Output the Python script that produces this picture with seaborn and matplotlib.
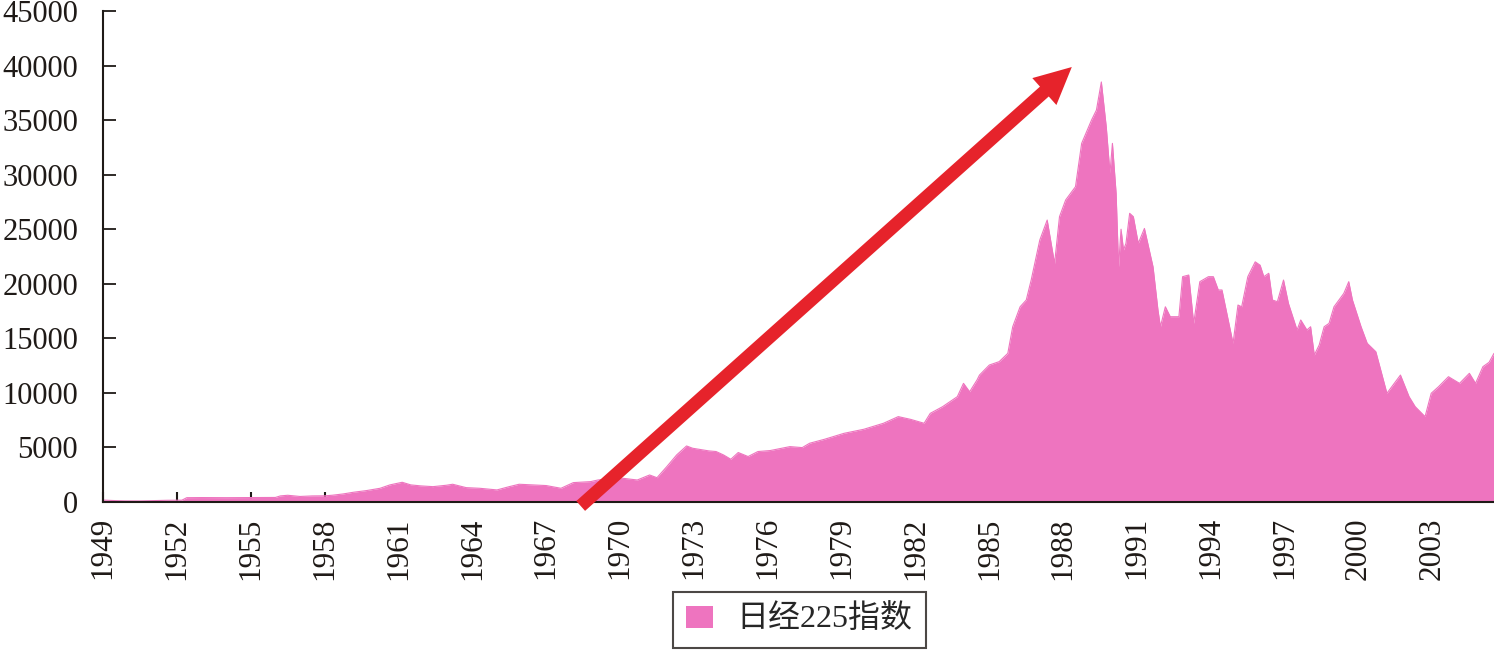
import matplotlib
matplotlib.use("Agg")
import matplotlib.pyplot as plt
import seaborn as sns
import pandas as pd

# ---- data ----
years = [1949.0, 1949.5, 1949.9, 1950.5, 1951.0, 1951.6, 1952.2, 1952.4, 1953.0, 1954.0,
         1955.0, 1956.0, 1956.2, 1956.5, 1957.0, 1957.5, 1958.0, 1958.3, 1958.75, 1959.15,
         1959.7, 1960.25, 1960.65, 1961.15, 1961.5, 1961.9, 1962.4, 1962.95, 1963.2, 1963.75,
         1964.3, 1965.0, 1965.5, 1965.9, 1966.45, 1967.0, 1967.6, 1968.1, 1968.8, 1969.1,
         1969.6, 1970.1, 1970.7, 1971.2, 1971.5, 1971.9, 1972.3, 1972.7, 1972.95, 1973.2,
         1973.6, 1973.9, 1974.2, 1974.5, 1974.8, 1975.2, 1975.6, 1976.1, 1976.9, 1977.4,
         1977.7, 1978.3, 1979.1, 1979.9, 1980.7, 1981.3, 1981.8, 1982.35, 1982.6, 1983.1,
         1983.7, 1983.95, 1984.2, 1984.5, 1984.6, 1985.0, 1985.4, 1985.75, 1985.95, 1986.25,
         1986.5, 1986.7, 1987.05, 1987.35, 1987.65, 1987.85, 1988.1, 1988.5, 1988.75, 1989.15,
         1989.35, 1989.55, 1989.75, 1989.9, 1990.0, 1990.15, 1990.25, 1990.35, 1990.45, 1990.55,
         1990.7, 1990.85, 1991.05, 1991.3, 1991.65, 1991.85, 1991.95, 1992.15, 1992.35, 1992.7,
         1992.85, 1993.1, 1993.3, 1993.55, 1993.9, 1994.1, 1994.3, 1994.45, 1994.9, 1995.1,
         1995.25, 1995.5, 1995.8, 1996.0, 1996.15, 1996.35, 1996.5, 1996.7, 1996.95, 1997.15,
         1997.5, 1997.65, 1997.9, 1998.05, 1998.2, 1998.4, 1998.6, 1998.8, 1999.0, 1999.4,
         1999.6, 1999.75, 2000.1, 2000.35, 2000.7, 2000.9, 2001.15, 2001.35, 2001.7, 2002.05,
         2002.3, 2002.7, 2002.95, 2003.25, 2003.65, 2004.1, 2004.5, 2004.75, 2005.05, 2005.3,
         2005.5]
nikkei = [170, 120, 95, 90, 120, 150, 160, 390, 400, 390,
          400, 410, 550, 610, 500, 550, 560, 610, 730, 880,
          1040, 1250, 1560, 1800, 1560, 1470, 1400, 1530, 1620, 1310,
          1250, 1100, 1400, 1620, 1560, 1500, 1250, 1770, 1860, 2010,
          2150, 2170, 2010, 2470, 2220, 3240, 4310, 5130, 4920, 4830,
          4680, 4620, 4310, 3910, 4530, 4160, 4620, 4710, 5070, 4980,
          5380, 5740, 6290, 6660, 7210, 7820, 7570, 7210, 8120, 8730,
          9650, 10870, 10100, 11180, 11630, 12550, 12860, 13620, 16060, 17890,
          18510, 20340, 24010, 25840, 21860, 26150, 27680, 28900, 32870, 35000,
          35920, 38500, 34380, 30140, 32870, 28290, 21550, 25000, 23100, 23700,
          26460, 26150, 23700, 25070, 21550, 17590, 16060, 17890, 16980, 16980,
          20650, 20800, 16370, 20190, 20650, 20650, 19430, 19430, 14540, 18050,
          17890, 20650, 22010, 21700, 20650, 20960, 18510, 18360, 20340, 18200,
          15760, 16680, 15760, 16060, 13470, 14390, 16060, 16370, 17890, 19120,
          20190, 18510, 16060, 14540, 13770, 12090, 9960, 10570, 11630, 9650,
          8730, 7820, 9960, 10570, 11480, 10870, 11790, 10870, 12400, 12800,
          13620]
x_ticks = list(range(1949, 2004, 3))
y_ticks = list(range(0, 45001, 5000))
series_name = "日经225指数"
arrow_from = (1968.4, -370)
arrow_to = (1988.35, 39870)

df = pd.DataFrame({"year": years, "value": nikkei})

sns.set_theme(style="ticks")
plt.rcParams["font.family"] = ["Liberation Serif", "Noto Sans CJK SC", "DejaVu Sans"]

pink = "#EE74BF"
dark = "#1f1a17"

fig = plt.figure(figsize=(14.94, 6.51), dpi=100)
ax = fig.add_axes([0.069, 0.229, 0.931, 0.754])

ax.fill_between(df["year"], 0, df["value"], color=pink, linewidth=0, label=series_name)
sns.lineplot(data=df, x="year", y="value", ax=ax, color=pink, linewidth=0.8, legend=False)

ax.set_xlim(1949, 2005.5)
ax.set_ylim(0, 45000)
ax.set_xticks(x_ticks)
ax.set_xticklabels([str(t) for t in x_ticks], rotation=90)
ax.set_yticks(y_ticks)
ax.set_yticklabels([str(t) for t in y_ticks])
ax.set_xlabel("")
ax.set_ylabel("")

for s in ["top", "right"]:
    ax.spines[s].set_visible(False)
for s in ["left", "bottom"]:
    ax.spines[s].set_color(dark)
    ax.spines[s].set_linewidth(1.5)
    ax.spines[s].set_zorder(5)

ax.tick_params(axis="y", direction="in", length=9, width=1.3, pad=18,
               labelsize=22, colors=dark)
ax.tick_params(axis="x", direction="in", length=7, width=1.5, pad=11,
               labelsize=22.5, colors=dark)

ax.annotate("", xy=arrow_to, xytext=arrow_from,
            arrowprops=dict(arrowstyle="simple,head_length=2.65,head_width=2.6,tail_width=0.95",
                            mutation_scale=10, color="#E6232B", shrinkA=0, shrinkB=0,
                            linewidth=0),
            annotation_clip=False, zorder=10)

handles, labels = ax.get_legend_handles_labels()
leg = fig.legend(handles, labels, loc="lower center", bbox_to_anchor=(0.535, 0.0),
                 frameon=True, fancybox=False, handlelength=0.85,
                 handleheight=0.7, handletextpad=0.75, borderpad=0.4, borderaxespad=0.1,
                 prop={"family": ["Liberation Serif", "Noto Sans CJK SC"], "size": 23})
leg.get_frame().set_edgecolor(dark)
leg.get_frame().set_linewidth(1.5)

fig.savefig("out.png", dpi=100)
